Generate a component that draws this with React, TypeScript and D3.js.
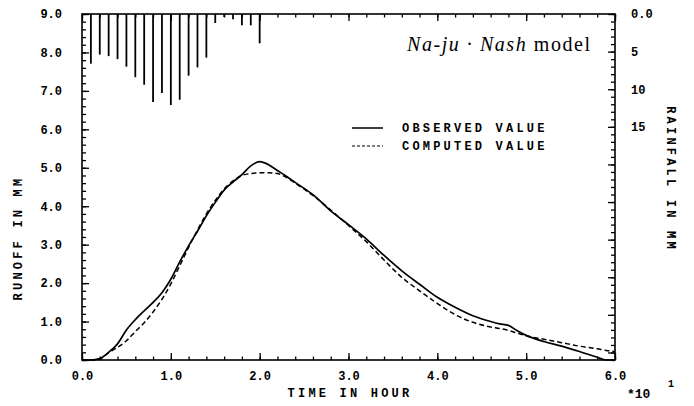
import React, { useEffect, useRef } from 'react';
import * as d3 from 'd3';

// time in hours and runoff (mm)
const hours = [0, 1, 2, 3, 4, 5, 6, 7, 8, 9, 10, 11, 12, 13, 14, 15, 16, 17, 18, 19, 20, 21, 22, 23, 24, 26, 28, 30, 32, 34, 36, 38, 40, 42, 44, 46, 47, 48, 49, 50, 52, 54, 56, 58, 59, 60];
const observed = [0, 0, 0.04, 0.2, 0.42, 0.78, 1.05, 1.28, 1.5, 1.75, 2.1, 2.55, 2.97, 3.35, 3.75, 4.1, 4.42, 4.63, 4.82, 5.05, 5.16, 5.08, 4.93, 4.78, 4.62, 4.3, 3.88, 3.52, 3.15, 2.72, 2.32, 1.97, 1.63, 1.37, 1.15, 1.0, 0.94, 0.9, 0.76, 0.64, 0.48, 0.36, 0.22, 0.07, 0, 0];
const computed = [0, 0, 0.03, 0.19, 0.33, 0.5, 0.74, 0.97, 1.25, 1.58, 1.98, 2.45, 2.93, 3.38, 3.8, 4.15, 4.45, 4.66, 4.8, 4.85, 4.87, 4.87, 4.85, 4.75, 4.6, 4.28, 3.9, 3.5, 3.08, 2.6, 2.15, 1.8, 1.47, 1.18, 0.98, 0.86, 0.82, 0.77, 0.7, 0.63, 0.54, 0.45, 0.36, 0.29, 0.25, 0.22];

// hourly rainfall (mm), hanging from the top
const rainHours = [1, 2, 3, 4, 5, 6, 7, 8, 9, 10, 11, 12, 13, 14, 15, 16, 17, 18, 19, 20];
const rainfall = [6.6, 5.4, 5.6, 6.0, 7.0, 8.4, 9.4, 11.7, 10.5, 12.1, 11.4, 8.2, 7.1, 5.8, 1.2, 0.4, 0.7, 1.5, 1.5, 3.9];

const xMajor = [0, 10, 20, 30, 40, 50, 60];
const yMajor = [0, 1, 2, 3, 4, 5, 6, 7, 8, 9];
const rainLabels = [0, 5, 10, 15];

const mono = '"Liberation Mono", "DejaVu Sans Mono", monospace';

const App = () => {
  const svgRef = useRef<SVGSVGElement>(null);

  useEffect(() => {
    const svg = d3.select(svgRef.current);
    svg.selectAll('*').remove();

    const x = d3.scaleLinear().domain([0, 60]).range([82, 615]);
    const y = d3.scaleLinear().domain([0, 9]).range([360, 14]);
    const rain = d3.scaleLinear().domain([0, 46]).range([14, 360]);

    const styleAxis = g => {
      g.select('.domain').remove();
      g.selectAll('line').attr('stroke', '#000').attr('stroke-width', 1.3);
      g.selectAll('text')
        .attr('fill', '#000')
        .attr('font-family', mono)
        .attr('font-size', 12)
        .attr('font-weight', 'bold');
    };

    // minor ticks
    const minorX = d3.range(0, 61, 2);
    const minorY = d3.range(0, 9.01, 0.2);
    svg.append('g').attr('transform', 'translate(0,360)')
      .call(d3.axisBottom(x).tickValues(minorX).tickSize(-3.5).tickFormat(() => ''))
      .call(styleAxis);
    svg.append('g').attr('transform', 'translate(0,14)')
      .call(d3.axisTop(x).tickValues(minorX).tickSize(-3.5).tickFormat(() => ''))
      .call(styleAxis);
    svg.append('g').attr('transform', 'translate(82,0)')
      .call(d3.axisLeft(y).tickValues(minorY).tickSize(-4).tickFormat(() => ''))
      .call(styleAxis);
    svg.append('g').attr('transform', 'translate(615,0)')
      .call(d3.axisRight(rain).tickValues(d3.range(0, 47, 1)).tickSize(-4).tickFormat(() => ''))
      .call(styleAxis);

    // major ticks + labels
    svg.append('g').attr('transform', 'translate(0,360)')
      .call(d3.axisBottom(x).tickValues(xMajor).tickSize(-7).tickPadding(11)
        .tickFormat(d => d3.format('.1f')(d / 10)))
      .call(styleAxis);
    svg.append('g').attr('transform', 'translate(0,14)')
      .call(d3.axisTop(x).tickValues(xMajor).tickSize(-7).tickFormat(() => ''))
      .call(styleAxis);
    svg.append('g').attr('transform', 'translate(82,0)')
      .call(d3.axisLeft(y).tickValues(yMajor).tickSize(-7).tickPadding(20).tickFormat(d3.format('.1f')))
      .call(styleAxis);
    svg.append('g').attr('transform', 'translate(615,0)')
      .call(d3.axisRight(rain).tickValues(d3.range(0, 47, 5)).tickSize(-7).tickPadding(16)
        .tickFormat(d => (rainLabels.includes(d) ? (d === 0 ? '0.0' : String(d)) : '')))
      .call(styleAxis);

    // frame
    svg.append('rect')
      .attr('x', x(0)).attr('y', y(9))
      .attr('width', x(60) - x(0)).attr('height', y(0) - y(9))
      .attr('fill', 'none').attr('stroke', '#000').attr('stroke-width', 1.6);

    // rainfall bars
    svg.append('g').selectAll('line')
      .data(rainHours)
      .join('line')
      .attr('x1', d => x(d)).attr('x2', d => x(d))
      .attr('y1', rain(0))
      .attr('y2', (d, i) => rain(rainfall[i]))
      .attr('stroke', '#000').attr('stroke-width', 1.8);

    const line = d3.line<number>()
      .x((d, i) => x(hours[i]))
      .y(d => y(d))
      .curve(d3.curveMonotoneX);

    svg.append('path').attr('d', line(observed))
      .attr('fill', 'none').attr('stroke', '#000').attr('stroke-width', 1.7);
    svg.append('path').attr('d', line(computed))
      .attr('fill', 'none').attr('stroke', '#000').attr('stroke-width', 1.5)
      .attr('stroke-dasharray', '5,3');

    const label = (sel, size = 12) => sel
      .attr('font-family', mono).attr('font-size', size).attr('font-weight', 'bold')
      .attr('letter-spacing', 3.2).attr('fill', '#000');

    // legend
    const legend = svg.append('g');
    legend.append('line').attr('x1', 352).attr('x2', 383).attr('y1', 128).attr('y2', 128)
      .attr('stroke', '#000').attr('stroke-width', 1.5);
    legend.append('line').attr('x1', 352).attr('x2', 383).attr('y1', 146).attr('y2', 146)
      .attr('stroke', '#000').attr('stroke-width', 1.2).attr('stroke-dasharray', '3,2');
    [['OBSERVED VALUE', 128], ['COMPUTED VALUE', 146]].forEach(([t, ty]) => {
      legend.append('text').attr('x', 402).attr('y', ty).attr('dy', '0.35em')
        .call(label).text(t);
    });

    // model title
    const title = svg.append('text').attr('x', 407).attr('y', 51)
      .attr('font-family', '"Liberation Serif", serif').attr('font-size', 20)
      .attr('textLength', 183).attr('lengthAdjust', 'spacing');
    title.append('tspan').attr('font-style', 'italic').text('Na-ju · Nash');
    title.append('tspan').text(' model');

    // axis titles
    svg.append('text').attr('x', 350).attr('y', 397).attr('text-anchor', 'middle')
      .call(label).text('TIME IN HOUR');
    svg.append('text').attr('transform', 'translate(22,238) rotate(-90)').attr('text-anchor', 'middle')
      .call(label).text('RUNOFF IN MM');
    svg.append('text').attr('transform', 'translate(667,179) rotate(90)').attr('text-anchor', 'middle')
      .call(label).text('RAINFALL IN MM');

    svg.append('text').attr('x', 627).attr('y', 398)
      .attr('font-family', mono).attr('font-size', 13).attr('font-weight', 'bold').text('*10');
    svg.append('text').attr('x', 668).attr('y', 387)
      .attr('font-family', mono).attr('font-size', 10).attr('font-weight', 'bold').text('1');
  }, []);

  return (
    <svg ref={svgRef} width={694} height={406} style={{ position: 'absolute', left: 0, top: 0, background: '#fff' }}></svg>
  );
};

export default App;
